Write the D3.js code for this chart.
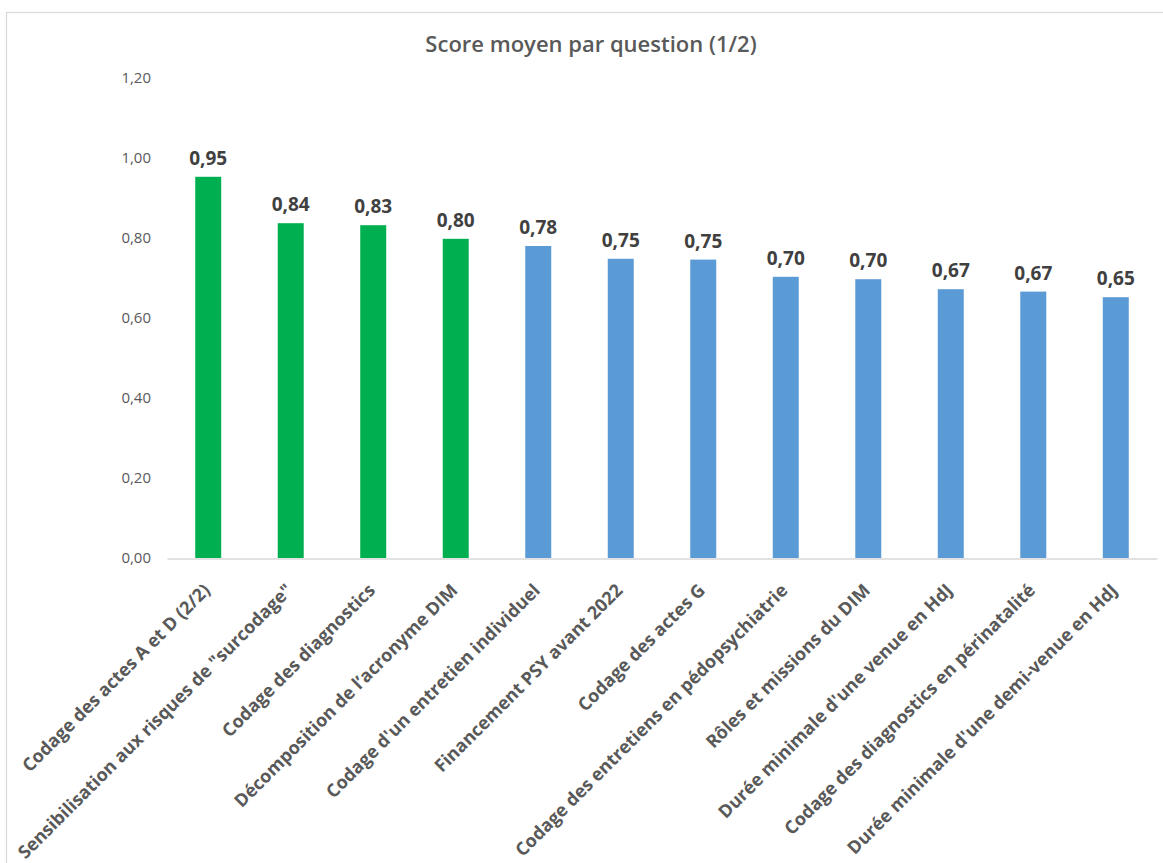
<!DOCTYPE html>
<html><head><meta charset="utf-8">
<script src="https://cdn.jsdelivr.net/npm/d3@7"></script>
<style>
html,body{margin:0;padding:0;background:#fff;}
svg{display:block;font-family:"Open Sans","Liberation Sans",sans-serif;}
</style></head>
<body><svg id="c" width="1163" height="863"></svg>
<script>
const categories = [
  "Codage des actes A et D (2/2)",
  "Sensibilisation aux risques de \"surcodage\"",
  "Codage des diagnostics",
  "Décomposition de l’acronyme DIM",
  "Codage d'un entretien individuel",
  "Financement PSY avant 2022",
  "Codage des actes G",
  "Codage des entretiens en pédopsychiatrie",
  "Rôles et missions du DIM",
  "Durée minimale d'une venue en HdJ",
  "Codage des diagnostics en périnatalité",
  "Durée minimale d'une demi-venue en HdJ"
];
const scores = [0.953, 0.837, 0.832, 0.798, 0.780, 0.748, 0.746, 0.703, 0.697, 0.672, 0.666, 0.652];
const highlighted = [true, true, true, true, false, false, false, false, false, false, false, false];
const yTicks = [0, 0.2, 0.4, 0.6, 0.8, 1.0, 1.2];
const title = "Score moyen par question (1/2)";

const svg = d3.select("#c");
const fmt = v => d3.format(".2f")(v).replace(".", ",");

// chart frame
svg.append("rect").attr("x",6.5).attr("y",12.5).attr("width",1170).attr("height",870)
  .attr("fill","#fff").attr("stroke","#d9d9d9").attr("stroke-width",1.2);

const x = d3.scaleBand().domain(categories).range([167,1157]).paddingInner(0.685).paddingOuter(0.342);
const y = d3.scaleLinear().domain([0,1.2]).range([558,78]);

svg.append("text").attr("x",591).attr("y",52).attr("text-anchor","middle")
  .attr("font-size",22).attr("font-weight",600).attr("fill","#595959").text(title);

// y axis labels
const ya = svg.append("g").attr("transform","translate(151,0)")
  .call(d3.axisLeft(y).tickValues(yTicks).tickFormat(fmt).tickSize(0).tickPadding(0));
ya.select(".domain").remove();
ya.selectAll("text").attr("font-size",15).attr("fill","#595959")
  .attr("font-family","'Open Sans',sans-serif");

// bars
svg.append("g").selectAll("rect").data(categories).join("rect")
  .attr("x",d=>x(d)).attr("width",x.bandwidth())
  .attr("y",(d,i)=>y(scores[i])).attr("height",(d,i)=>y(0)-y(scores[i]))
  .attr("fill",(d,i)=>highlighted[i]?"#00B050":"#5B9BD5");

// x axis
const xa = svg.append("g").attr("transform","translate(0,558.5)")
  .call(d3.axisBottom(x).tickSize(0).tickPadding(0));
xa.select(".domain").attr("stroke","#d9d9d9").attr("stroke-width",1.3);
xa.selectAll("text")
  .attr("font-size",18).attr("font-weight",700).attr("fill","#595959")
  .attr("font-family","'Open Sans',sans-serif")
  .attr("text-anchor","end").attr("dy",null).attr("y",0)
  .attr("transform","translate(3,33) rotate(-45)");

// data labels
svg.append("g").selectAll("text").data(categories).join("text")
  .attr("x",d=>x(d)+x.bandwidth()/2).attr("y",(d,i)=>y(scores[i])-12)
  .attr("text-anchor","middle").attr("font-size",19).attr("font-weight",700)
  .attr("fill","#404040").text((d,i)=>fmt(scores[i]));
</script></body></html>
